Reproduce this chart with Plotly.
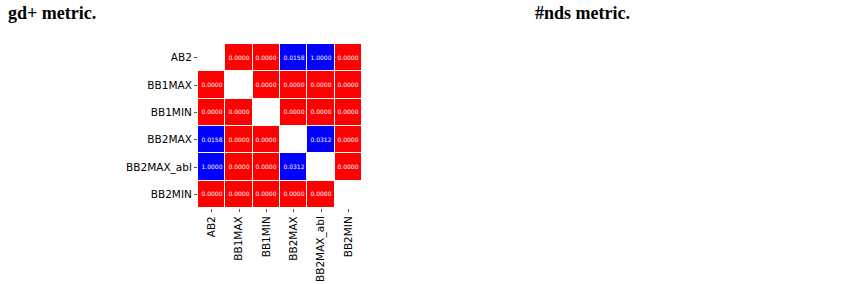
import plotly.graph_objects as go

methods = ["AB2", "BB1MAX", "BB1MIN", "BB2MAX", "BB2MAX_abl", "BB2MIN"]
pvalues = [
    [None, 0.0000, 0.0000, 0.0158, 1.0000, 0.0000],
    [0.0000, None, 0.0000, 0.0000, 0.0000, 0.0000],
    [0.0000, 0.0000, None, 0.0000, 0.0000, 0.0000],
    [0.0158, 0.0000, 0.0000, None, 0.0312, 0.0000],
    [1.0000, 0.0000, 0.0000, 0.0312, None, 0.0000],
    [0.0000, 0.0000, 0.0000, 0.0000, 0.0000, None],
]
titles = ["gd+ metric.", "#nds metric."]

text = [["" if v is None else f"{v:.4f}" for v in row] for row in pvalues]

fig = go.Figure(go.Heatmap(
    z=pvalues, x=methods, y=methods,
    text=text, texttemplate="%{text}",
    textfont=dict(size=6, color="white", family="DejaVu Sans"),
    colorscale=[[0, "#ff0000"], [0.5, "#ff0000"], [0.5, "#0000ff"], [1, "#0000ff"]],
    zmin=0, zmax=0.01, showscale=False, xgap=1, ygap=1, hoverongaps=False,
))

fig.update_layout(
    width=847, height=284,
    margin=dict(l=198, r=485, t=44, b=76),
    paper_bgcolor="white", plot_bgcolor="white",
    font=dict(family="DejaVu Sans", size=10.5, color="black"),
    xaxis=dict(tickangle=-90, ticks="outside", ticklen=3, tickcolor="#555",
               showgrid=False, zeroline=False, showline=False, type="category",
               automargin=False),
    yaxis=dict(autorange="reversed", ticks="outside", ticklen=3, tickcolor="#555",
               showgrid=False, zeroline=False, showline=False, type="category",
               automargin=False),
)

for x, t in zip([6, 533], titles):
    fig.add_annotation(text=f"<b>{t}</b>", xref="paper", yref="paper",
                       x=(x - 198) / 164, y=1 + (44 - 1) / 164, xanchor="left", yanchor="top",
                       showarrow=False,
                       font=dict(family="Liberation Serif", size=18, color="black"))

fig.write_html("out.html")
